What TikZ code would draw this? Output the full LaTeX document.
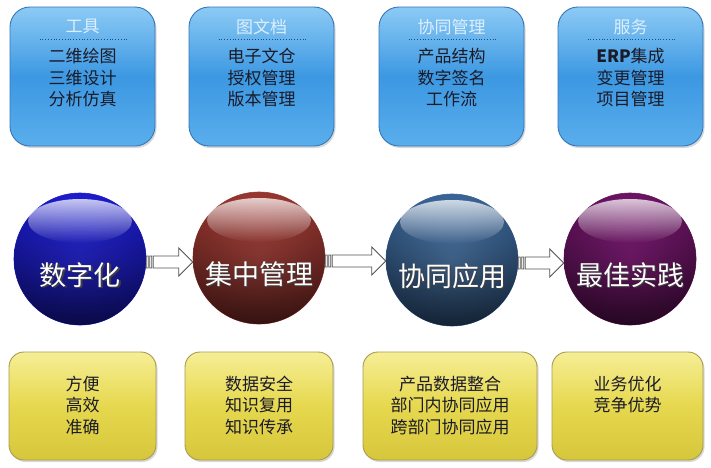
\documentclass[tikz,border=0pt]{standalone}
\usepackage{fontspec}
\newfontfamily\cjk{Noto Sans CJK SC}
\usetikzlibrary{shadows,fadings,calc}
\definecolor{bluetop}{HTML}{8CCAF5}
\definecolor{bluemid}{HTML}{3C98E2}
\definecolor{bluebot}{HTML}{5AAEEC}
\definecolor{blueborder}{HTML}{3476BA}
\definecolor{yeltop}{HTML}{F6EE96}
\definecolor{yelmid}{HTML}{E6D84E}
\definecolor{yelbot}{HTML}{D6C63C}
\definecolor{yelborder}{HTML}{A89A50}
\definecolor{titlecol}{HTML}{DDEFFC}
\definecolor{itemcol}{HTML}{1A1A28}
\definecolor{dotcol}{HTML}{1E4E86}
\definecolor{b1in}{HTML}{2E2EFA}
\definecolor{b1out}{HTML}{1C1CCC}
\definecolor{b2in}{HTML}{C04E46}
\definecolor{b2out}{HTML}{983630}
\definecolor{b3in}{HTML}{5A8CC2}
\definecolor{b3out}{HTML}{3A6496}
\definecolor{b4in}{HTML}{96228C}
\definecolor{b4out}{HTML}{6A1462}
\tikzfading[name=hlfade, top color=transparent!25, bottom color=transparent!100]
\tikzfading[name=botfade, top color=transparent!100, middle color=transparent!100, bottom color=transparent!35]
\newcommand\blockarr[2]{%
  \draw[arrowst] let \p1=(#1.east), \p2=(#2.west) in
    (\x1+7pt,\y1+3pt) -- (\x2-14pt,\y1+3pt) -- (\x2-14pt,\y1+11pt) -- (\x2,\y1-3pt)
    -- (\x2-14pt,\y1-17pt) -- (\x2-14pt,\y1-9pt) -- (\x1+7pt,\y1-9pt) -- cycle
    (\x1,\y1+3pt) rectangle (\x1+2pt,\y1-9pt)
    (\x1+3.5pt,\y1+3pt) rectangle (\x1+5.5pt,\y1-9pt);}
\begin{document}
\begin{tikzpicture}[x=1pt,y=-1pt,
  bluebox/.style={rounded corners=20pt, draw=blueborder, line width=0.9pt,
    top color=bluetop, bottom color=bluebot, middle color=bluemid,
    drop shadow={opacity=0.3, shadow xshift=1.5pt, shadow yshift=-2pt},
    minimum width=145pt, minimum height=139pt, inner sep=0pt},
  yelbox/.style={rounded corners=15pt, draw=yelborder, line width=0.9pt,
    top color=yeltop, bottom color=yelbot, middle color=yelmid,
    drop shadow={opacity=0.3, shadow xshift=1.5pt, shadow yshift=-2pt},
    minimum height=108pt, inner sep=0pt},
  titletext/.style={font=\cjk\fontsize{17}{20}\selectfont, text=titlecol, inner sep=0pt},
  itemtext/.style={font=\cjk\fontsize{17}{21.5}\selectfont, text=itemcol, align=center, inner sep=0pt},
  ytext/.style={font=\cjk\fontsize{17}{21.5}\selectfont, text=itemcol, align=center, inner sep=0pt, anchor=north},
  dotline/.style={draw=dotcol, line width=0.8pt, dotted},
  ball/.style 2 args={circle, minimum size=132pt, inner sep=0pt, inner color=#1, outer color=#2, draw=#2, line width=0.6pt},
  hilite/.style={fill=white, path fading=hlfade},
  darken/.style={fill=black, path fading=botfade},
  circtext/.style={font=\cjk\fontsize{27}{30}\selectfont, text=white, inner sep=0pt},
  circshadow/.style={font=\cjk\fontsize{27}{30}\selectfont, text=black!75, inner sep=0pt},
  arrowst/.style={draw=gray!65!black, fill=white, line width=0.8pt, line join=miter}
]
\useasboundingbox (0,0) rectangle (711,467);
\fill[white] (0,0) rectangle (711,467);

% top blue boxes
\node[bluebox] (t1) at (82.5,76.5) {};
\node[bluebox] (t2) at (261.5,76.5) {};
\node[bluebox] (t3) at (451.5,76.5) {};
\node[bluebox] (t4) at (630.5,76.5) {};

\foreach \b in {t1,t2,t3,t4}{
  \draw[dotline] ($(\b.north west)+(30,33)$) -- ($(\b.north east)+(-28,33)$);
}

\node[titletext] (tt1) at ($(t1.north)+(0,20)$) {工具};
\node[titletext] (tt2) at ($(t2.north)+(0,20)$) {图文档};
\node[titletext] (tt3) at ($(t3.north)+(0,20)$) {协同管理};
\node[titletext] (tt4) at ($(t4.north)+(0,20)$) {服务};

\node[itemtext] (ti1) at ($(t1.north)+(0,71)$) {二维绘图\\三维设计\\分析仿真};
\node[itemtext] (ti2) at ($(t2.north)+(0,71)$) {电子文仓\\授权管理\\版本管理};
\node[itemtext] (ti3) at ($(t3.north)+(0,71)$) {产品结构\\数字签名\\工作流};
\node[itemtext] (ti4) at ($(t4.north)+(0,71)$) {\textbf{ERP}集成\\变更管理\\项目管理};

% spheres
\node[ball={b1in}{b1out}] (c1) at (80,259) {};
\node[ball={b2in}{b2out}] (c2) at (259,258) {};
\node[ball={b3in}{b3out}] (c3) at (452,260) {};
\node[ball={b4in}{b4out}] (c4) at (630,259) {};

\foreach \c in {c1,c2,c3,c4}{
  \fill[darken] (\c.center) circle [radius=66];
  \fill[hilite] ($(\c.center)+(0,-38)$) ellipse [x radius=52, y radius=22];
}

\node[circshadow] (s1) at ($(c1.center)+(1.5,17.5)$) {数字化};
\node[circtext] (l1) at ($(c1.center)+(0,16)$) {数字化};
\node[circshadow] (s2) at ($(c2.center)+(1.5,17.5)$) {集中管理};
\node[circtext] (l2) at ($(c2.center)+(0,16)$) {集中管理};
\node[circshadow] (s3) at ($(c3.center)+(1.5,17.5)$) {协同应用};
\node[circtext] (l3) at ($(c3.center)+(0,16)$) {协同应用};
\node[circshadow] (s4) at ($(c4.center)+(1.5,17.5)$) {最佳实践};
\node[circtext] (l4) at ($(c4.center)+(0,16)$) {最佳实践};

% arrows
\blockarr{c1}{c2}
\blockarr{c2}{c3}
\blockarr{c3}{c4}

% bottom yellow boxes
\node[yelbox, minimum width=147pt] (y1) at (82.5,406) {};
\node[yelbox, minimum width=148pt] (y2) at (259,406) {};
\node[yelbox, minimum width=174pt] (y3) at (450,406) {};
\node[yelbox, minimum width=151pt] (y4) at (627.5,406) {};

\node[ytext] (yt1) at ($(y1.north)+(0,24)$) {方便\\高效\\准确};
\node[ytext] (yt2) at ($(y2.north)+(0,24)$) {数据安全\\知识复用\\知识传承};
\node[ytext] (yt3) at ($(y3.north)+(0,24)$) {产品数据整合\\部门内协同应用\\跨部门协同应用};
\node[ytext] (yt4) at ($(y4.north)+(0,24)$) {业务优化\\竞争优势};
\end{tikzpicture}
\end{document}
